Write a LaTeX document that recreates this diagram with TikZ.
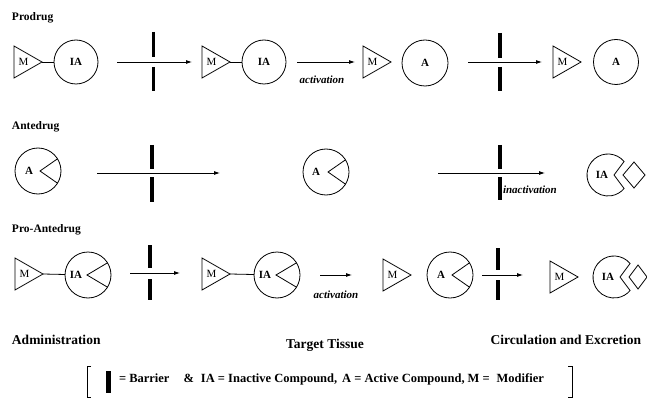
\documentclass[tikz,border=0pt]{standalone}
\usepackage{fontspec}
\setmainfont{Liberation Serif}
\usetikzlibrary{calc,arrows.meta}
\newcommand\mytri[3]{%
  \draw[shp] (#2,{#3+16}) -- (#2,{#3-16}) -- ({#2+28},#3) -- cycle;
  \node[mtext] (#1) at ({#2+9.5},#3) {M};
  \coordinate (#1tip) at ({#2+28},#3);
}
\newcommand\mywedge[7]{%
  \node[circ, minimum size=#4pt] (#1) at (#2,#3) {};
  \draw[shp] (#1.32) -- ([xshift=#5pt]#1.center) -- (#1.-32);
  \node[ctext] at ([xshift=#7pt]#1.center) {#6};
}
\newcommand\mypac[5]{%
  \coordinate (#1) at (#2,#3);
  \draw[shp] ([shift={(40:21)}]#1) arc[start angle=40,end angle=320,radius=21] -- ([xshift=6pt]#1) -- cycle;
  \node[ctext] at ([xshift=-6pt]#1) {IA};
  \draw[shp] ([xshift=15pt]#1) -- ++(#4,#5) -- ++(#4,-#5) -- ++(-#4,-#5) -- cycle;
}
\begin{document}
\begin{tikzpicture}[x=1pt,y=1pt,
  every node/.style={inner sep=0pt, outer sep=0pt},
  shp/.style={line width=0.8pt, line join=miter},
  circ/.style={circle, draw, line width=0.8pt},
  ctext/.style={font=\fontsize{11}{13}\selectfont\bfseries},
  mtext/.style={font=\fontsize{11}{13}\selectfont},
  arr/.style={line width=0.8pt, -{Latex[length=6pt,width=4pt]}},
  conn/.style={line width=0.8pt},
  bar/.style={line width=3.5pt},
  head/.style={font=\fontsize{11.5}{13}\selectfont\bfseries, anchor=west},
  act/.style={font=\fontsize{11}{13}\selectfont\bfseries\itshape},
  foot/.style={font=\fontsize{13.5}{15}\selectfont\bfseries},
  leg/.style={font=\fontsize{12.5}{14}\selectfont\bfseries, anchor=west},
]
\useasboundingbox (0,0) rectangle (647,-398);

% ---------------- Prodrug ----------------
\node[head] (hpro) at (12,-18) {Prodrug};
\mytri{pt1}{14}{-62}
\node[circ, minimum size=44pt, ctext] (pc1) at (76,-62) {IA};
\draw[conn] (pt1tip) -- (pc1);
\coordinate (pa1s) at (117,-62); \coordinate (pa1e) at (192,-62);
\draw[arr] (pa1s) -- (pa1e);
\draw[bar] (153.5,-32) -- (153.5,-57) (153.5,-67) -- (153.5,-91);
\mytri{pt2}{202}{-62}
\node[circ, minimum size=44pt, ctext] (pc2) at (264,-62) {IA};
\draw[conn] (pt2tip) -- (pc2);
\coordinate (pa2s) at (297,-62); \coordinate (pa2e) at (355,-62);
\draw[arr] (pa2s) -- (pa2e);
\node[act] (pact) at (322,-80) {activation};
\mytri{pt3}{363}{-62}
\node[circ, minimum size=46pt, ctext] (pc3) at (425,-63) {A};
\coordinate (pa3s) at (468,-62); \coordinate (pa3e) at (542,-62);
\draw[arr] (pa3s) -- (pa3e);
\draw[bar] (500,-33) -- (500,-58) (500,-67) -- (500,-91);
\mytri{pt4}{553}{-62}
\node[circ, minimum size=45pt, ctext] (pc4) at (616,-62) {A};

% ---------------- Antedrug ----------------
\node[head] (hante) at (12,-127) {Antedrug};
\mywedge{aw1}{38}{-171}{46}{2}{A}{-9}
\coordinate (aa1s) at (97,-173); \coordinate (aa1e) at (220,-173);
\draw[arr] (aa1s) -- (aa1e);
\draw[bar] (152,-145) -- (152,-169) (152,-177) -- (152,-202);
\mywedge{aw2}{326}{-172}{46}{2}{A}{-10}
\coordinate (aa2s) at (438,-173); \coordinate (aa2e) at (545,-173);
\draw[arr] (aa2s) -- (aa2e);
\draw[bar] (500,-145) -- (500,-169) (500,-177) -- (500,-200);
\node[act, anchor=west] (inact) at (503,-190) {inactivation};
\mypac{ap}{608}{-175}{11}{13}

% ---------------- Pro-Antedrug ----------------
\node[head] (hproante) at (12,-230) {Pro-Antedrug};
\mytri{qt1}{15}{-274}
\mywedge{qw1}{88}{-275}{46}{-1}{IA}{-12}
\draw[conn] (qt1tip) -- (qw1);
\coordinate (qa1s) at (130,-273); \coordinate (qa1e) at (180,-273);
\draw[arr] (qa1s) -- (qa1e);
\draw[bar] (150,-245) -- (150,-268) (150,-279) -- (150,-300);
\mytri{qt2}{202}{-274}
\mywedge{qw2}{277}{-275}{46}{-1}{IA}{-12}
\draw[conn] (qt2tip) -- (qw2);
\coordinate (qa2s) at (320,-275); \coordinate (qa2e) at (352,-275);
\draw[arr] (qa2s) -- (qa2e);
\node[act] (qact) at (336,-295) {activation};
\mytri{qt3}{383}{-275}
\mywedge{qw3}{450}{-275}{46}{2}{A}{-9}
\coordinate (qa3s) at (482,-275); \coordinate (qa3e) at (523,-275);
\draw[arr] (qa3s) -- (qa3e);
\draw[bar] (498,-248) -- (498,-270) (498,-280) -- (498,-300);
\mytri{qt4}{550}{-277}
\mypac{qp}{614}{-277}{9}{12}

% ---------------- Footer ----------------
\node[foot, anchor=west] (fadm) at (12,-340) {Administration};
\node[foot] (ftt) at (325,-345) {Target Tissue};
\node[foot, anchor=east] (fce) at (641,-340) {Circulation and Excretion};

\draw[line width=0.7pt] (91,-366) -- (87,-366) -- (87,-397) -- (91,-397);
\draw[line width=0.7pt] (568,-366) -- (572,-366) -- (572,-397) -- (568,-397);
\draw[line width=5pt] (108,-371) -- (108,-393);
\node[leg] (legtext) at (119,-379) {= Barrier\hspace{14pt}\&\hspace{7pt}IA = Inactive Compound,\hspace{5pt}A = Active Compound,\hspace{3pt}M =\hspace{7pt}Modifier};
\end{tikzpicture}
\end{document}
